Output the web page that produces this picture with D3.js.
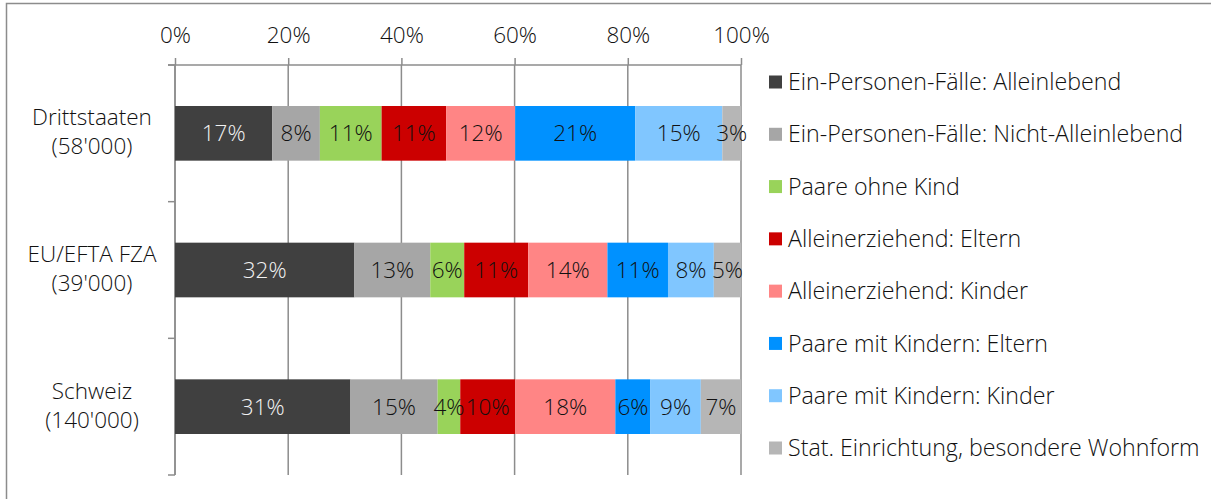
<!DOCTYPE html>
<html>
<head>
<meta charset="utf-8">
<script src="https://cdn.jsdelivr.net/npm/d3@7"></script>
<style>
  body { margin: 0; background: #fff; }
  svg { display: block; font-family: "Open Sans", sans-serif; font-weight: 350; }
</style>
</head>
<body>
<script>
// Categories (two-line labels) and series
var categories = ["Drittstaaten", "EU/EFTA FZA", "Schweiz"];
var catSub = ["(58'000)", "(39'000)", "(140'000)"];

var seriesNames = [
  "Ein-Personen-Fälle: Alleinlebend",
  "Ein-Personen-Fälle: Nicht-Alleinlebend",
  "Paare ohne Kind",
  "Alleinerziehend: Eltern",
  "Alleinerziehend: Kinder",
  "Paare mit Kindern: Eltern",
  "Paare mit Kindern: Kinder",
  "Stat. Einrichtung, besondere Wohnform"
];
var seriesColors = ["#404040", "#a6a6a6", "#99d35a", "#cc0000",
                    "#ff8585", "#0091ff", "#80c6ff", "#b6b6b6"];

// shares in % per category, same order as seriesNames
var drittstaaten = [17.2, 8.4, 10.9, 11.4, 12.2, 21.2, 15.4, 3.3];
var euEfta       = [31.7, 13.4, 6.0, 11.3, 14.0, 10.7, 8.1, 4.8];
var schweiz      = [31.0, 15.4, 4.0, 9.7, 17.7, 6.2, 8.9, 7.1];
var values = [drittstaaten, euEfta, schweiz];

var tickValues = [0, 20, 40, 60, 80, 100];

var W = 1211, H = 499;
var fontSize = 22.5;
var svg = d3.select("body").append("svg")
    .attr("width", W).attr("height", H);

// chart frame
svg.append("rect")
    .attr("x", 6.5).attr("y", 3.5)
    .attr("width", 1230).attr("height", 520)
    .attr("fill", "none")
    .attr("stroke", "#8c8c8c")
    .attr("stroke-width", 1.5);

var xScale = d3.scaleLinear().domain([0, 100]).range([175, 741]);
var yScale = d3.scaleBand().domain(categories)
    .range([65, 475]).paddingInner(0.6).paddingOuter(0.3);

// vertical gridlines
svg.append("g").selectAll("line")
    .data(tickValues)
    .enter().append("line")
    .attr("x1", function(d) { return xScale(d); })
    .attr("x2", function(d) { return xScale(d); })
    .attr("y1", 65).attr("y2", 475)
    .attr("stroke", "#8c8c8c").attr("stroke-width", 1.5);

// top axis
var xAxis = d3.axisTop(xScale)
    .tickValues(tickValues)
    .tickSize(7)
    .tickPadding(15)
    .tickFormat(function(d) { return d + "%"; });
var gx = svg.append("g")
    .attr("transform", "translate(0,65)")
    .call(xAxis);
gx.select(".domain").remove();
gx.selectAll(".tick line").attr("stroke", "#8c8c8c").attr("stroke-width", 1.5);
gx.selectAll(".tick text")
    .attr("font-size", fontSize).attr("fill", "#111")
    .style("font-family", "Open Sans, sans-serif");
svg.append("line")
    .attr("x1", 168).attr("x2", 741)
    .attr("y1", 65).attr("y2", 65)
    .attr("stroke", "#8c8c8c").attr("stroke-width", 1.5);

// category axis
var step = yScale.step();
var bounds = categories.map(function(c) {
    return yScale(c) - step * yScale.paddingInner() / 2;
});
bounds.push(bounds[bounds.length - 1] + step);
svg.append("line")
    .attr("x1", 175).attr("x2", 175)
    .attr("y1", 65).attr("y2", 475)
    .attr("stroke", "#8c8c8c").attr("stroke-width", 1.5);
svg.append("g").selectAll("line")
    .data(bounds)
    .enter().append("line")
    .attr("x1", 168).attr("x2", 175)
    .attr("y1", function(d) { return d; })
    .attr("y2", function(d) { return d; })
    .attr("stroke", "#8c8c8c").attr("stroke-width", 1.5);

// category labels, two lines
categories.forEach(function(c, i) {
    var cy = yScale(c) + yScale.bandwidth() / 2;
    svg.append("text")
        .attr("x", 92).attr("y", cy - 8)
        .attr("text-anchor", "middle")
        .attr("font-size", fontSize).attr("fill", "#111")
        .text(c);
    svg.append("text")
        .attr("x", 92).attr("y", cy + 21)
        .attr("text-anchor", "middle")
        .attr("font-size", fontSize).attr("fill", "#111")
        .text(catSub[i]);
});

// stacked bars
var rows = categories.map(function(c, i) {
    var acc = 0;
    return values[i].map(function(v, j) {
        var seg = { cat: c, series: j, x0: acc, x1: acc + v, v: v };
        acc += v;
        return seg;
    });
});

var barG = svg.append("g");
rows.forEach(function(segs) {
    barG.selectAll(null)
        .data(segs)
        .enter().append("rect")
        .attr("x", function(d) { return xScale(d.x0); })
        .attr("width", function(d) { return xScale(d.x1) - xScale(d.x0); })
        .attr("y", function(d) { return yScale(d.cat); })
        .attr("height", yScale.bandwidth())
        .attr("fill", function(d) { return seriesColors[d.series]; });
    barG.selectAll(null)
        .data(segs)
        .enter().append("text")
        .attr("x", function(d) { return xScale((d.x0 + d.x1) / 2); })
        .attr("y", function(d) { return yScale(d.cat) + yScale.bandwidth() / 2; })
        .attr("dy", "0.36em")
        .attr("text-anchor", "middle")
        .attr("font-size", fontSize)
        .attr("fill", function(d) { return d.series === 0 ? "#f2f2f2" : "#111"; })
        .text(function(d) { return Math.round(d.v) + "%"; });
});

// legend
var legendY = d3.scalePoint().domain(seriesNames).range([82, 448]);
var lg = svg.append("g").selectAll("g")
    .data(seriesNames)
    .enter().append("g")
    .attr("transform", function(d) { return "translate(769," + legendY(d) + ")"; });
lg.append("rect")
    .attr("x", 0).attr("y", -6.5)
    .attr("width", 13).attr("height", 13)
    .attr("fill", function(d, i) { return seriesColors[i]; });
lg.append("text")
    .attr("x", 19).attr("dy", "0.35em")
    .attr("font-size", 23.2)
    .attr("fill", "#111")
    .text(function(d) { return d; });
</script>
</body>
</html>
